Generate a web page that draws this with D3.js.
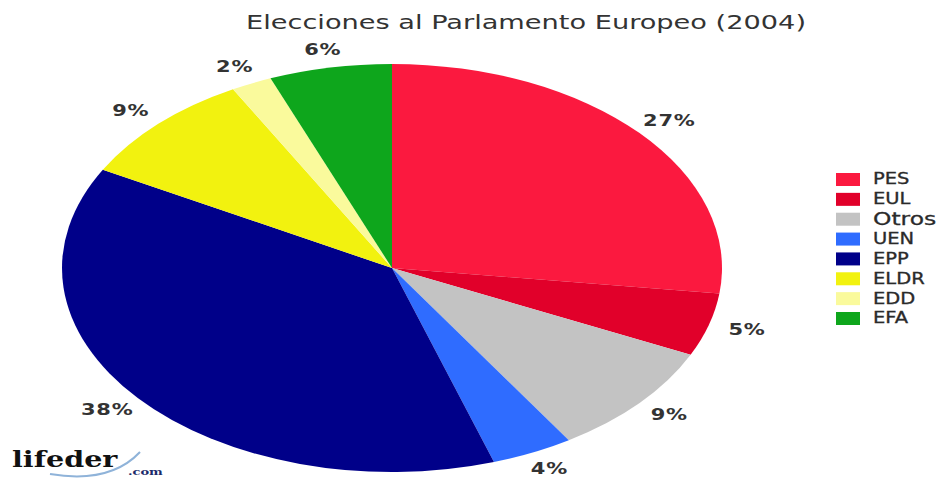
<!DOCTYPE html>
<html>
<head>
<meta charset="utf-8">
<script src="https://cdn.jsdelivr.net/npm/d3@7"></script>
<style>
  body { margin: 0; background: #fff; }
</style>
</head>
<body>
<div id="chart"></div>
<script>
const W = 948, H = 482;

const parties = ["PES", "EUL", "Otros", "UEN", "EPP", "ELDR", "EDD", "EFA"];
const shares = [27, 5, 9, 4, 38, 9, 2, 6];
const labels = ["27%", "5%", "9%", "4%", "38%", "9%", "2%", "6%"];
const colors = ["#fb193f", "#e1002a", "#c3c3c3", "#2f6cff", "#000089", "#f2f20f", "#fafa9c", "#0ea61c"];

const data = parties.map((p, i) => ({ party: p, value: shares[i], label: labels[i] }));

const cx = 392, cy = 268, rx = 330, ry = 204;

const svg = d3.select("#chart")
    .append("svg")
    .attr("width", W)
    .attr("height", H)
    .style("font-family", "'DejaVu Sans', sans-serif");

// title
svg.append("text")
    .attr("x", 246)
    .attr("y", 29)
    .attr("textLength", 560)
    .attr("lengthAdjust", "spacingAndGlyphs")
    .style("font-size", "20px")
    .style("fill", "#333")
    .text("Elecciones al Parlamento Europeo (2004)");

const pie = d3.pie().sort(null).value(d => d.value);
const arcs = pie(data);

// unit circle arc, stretched into an ellipse
const arc = d3.arc().innerRadius(0).outerRadius(100);

svg.append("g")
    .attr("transform", `translate(${cx},${cy}) scale(${rx / 100},${ry / 100})`)
    .selectAll("path")
    .data(arcs)
    .join("path")
    .attr("d", arc)
    .attr("fill", (d, i) => colors[i]);

// percent labels outside the pie
const kx = 1.12, ky = 1.09;
svg.append("g")
    .selectAll("text")
    .data(arcs)
    .join("text")
    .attr("transform", d => {
        const a = (d.startAngle + d.endAngle) / 2;
        const x = cx + Math.sin(a) * rx * kx;
        const y = cy - Math.cos(a) * ry * ky;
        return `translate(${x},${y}) scale(1.4,1)`;
    })
    .attr("text-anchor", "middle")
    .attr("dy", "0.35em")
    .style("font-size", "15px")
    .style("font-weight", "bold")
    .style("letter-spacing", "0.5px")
    .style("fill", "#333")
    .text(d => d.data.label);

// legend
const ly = d3.scalePoint().domain(parties).range([179, 318]);
const legend = svg.append("g")
    .selectAll("g")
    .data(data)
    .join("g")
    .attr("transform", d => `translate(836,${ly(d.party)})`);

legend.append("rect")
    .attr("x", 0)
    .attr("y", -6)
    .attr("width", 24)
    .attr("height", 13)
    .attr("fill", (d, i) => colors[i]);

legend.append("text")
    .attr("transform", "translate(37,0) scale(1.3,1)")
    .attr("dy", "0.36em")
    .style("font-family", "'DejaVu Sans', sans-serif")
    .style("font-size", d => d.party === "Otros" ? "18px" : "15px")
    .style("fill", "#2a2a2a")
    .style("stroke", "#2a2a2a")
    .style("stroke-width", "0.3px")
    .text(d => d.party);

// watermark
const wm = svg.append("g");
wm.append("path")
    .attr("d", "M50,474 Q110,484 140,452")
    .attr("fill", "none")
    .attr("stroke", "#8fb3d9")
    .attr("stroke-width", 2);
wm.append("text")
    .attr("transform", "translate(12,467) scale(1.3,1)")
    .style("font-family", "'DejaVu Serif', serif")
    .style("font-weight", "bold")
    .style("font-size", "22px")
    .style("fill", "#111")
    .text("lifeder");
wm.append("text")
    .attr("transform", "translate(128,475) scale(1.3,1)")
    .style("font-family", "'DejaVu Serif', serif")
    .style("font-weight", "bold")
    .style("font-size", "10px")
    .style("fill", "#1a2a6a")
    .text(".com");
</script>
</body>
</html>
